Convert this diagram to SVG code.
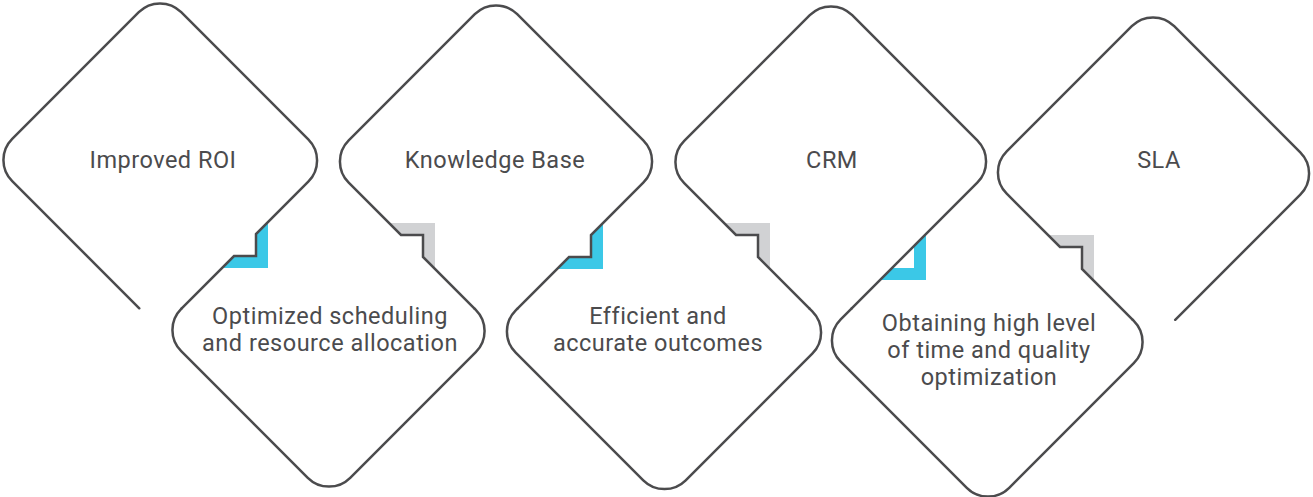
<svg xmlns="http://www.w3.org/2000/svg" width="1313" height="497" viewBox="0 0 1313 497">
<style>
.edge{fill:none;stroke:#4b4b4d;stroke-width:2.5;stroke-linecap:round;stroke-linejoin:miter}
.lbl{font-family:Roboto,"Liberation Sans",sans-serif;font-size:23.5px;letter-spacing:0.5px;fill:#4b4b4d;text-anchor:middle}
.cyan{fill:#3bc8e7}
.grey{fill:#d1d2d4}
</style>
<rect x="0" y="0" width="1313" height="497" fill="#ffffff"/>
<g id="connectors">
<polygon class="cyan" points="256,234 268,222 268,268 222,268 234,256 256,256"/>
<polygon class="grey" points="401,235 389,223 435,223 435,269 423,257 423,235"/>
<polygon class="cyan" points="591,235 603,223 603,269 557,269 569,257 591,257"/>
<polygon class="grey" points="736,235 724,223 770,223 770,269 758,257 758,235"/>
<polygon class="cyan" points="914,246 926,234 926,280 880,280 892,268 914,268"/>
<polygon class="grey" points="1060,247 1048,235 1094,235 1094,281 1082,269 1082,247"/>
</g>
<g id="node-improved-roi">
<path class="edge" d="M139.29,308.29 L12.21,181.21 A30,30 0 0 1 12.21,138.79 L138.79,12.21 A30,30 0 0 1 181.21,12.21 L308.29,139.29 A30,30 0 0 1 308.29,181.71 L256,234 L256,256 L234,256 L181.71,308.29"/>
<text class="lbl" x="163" y="168">Improved ROI</text>
</g>
<g id="node-optimized-scheduling">
<path class="edge" d="M181.71,308.29 L181.21,308.79 A30,30 0 0 0 181.21,351.21 L307.79,477.79 A30,30 0 0 0 350.21,477.79 L475.79,352.21 A30,30 0 0 0 475.79,309.79 L474.79,308.79"/>
<text class="lbl" x="330" y="324">Optimized scheduling</text>
<text class="lbl" x="330" y="351">and resource allocation</text>
</g>
<g id="node-knowledge-base">
<path class="edge" d="M474.79,308.79 L423,257 L423,235 L401,235 L348.71,182.71 A30,30 0 0 1 348.71,140.29 L474.79,14.21 A30,30 0 0 1 517.21,14.21 L643.29,140.29 A30,30 0 0 1 643.29,182.71 L591,235 L591,257 L569,257 L517.21,308.79"/>
<text class="lbl" x="495" y="168">Knowledge Base</text>
</g>
<g id="node-efficient-outcomes">
<path class="edge" d="M517.21,308.79 L515.71,310.29 A30,30 0 0 0 515.71,352.71 L643.29,480.29 A30,30 0 0 0 685.71,480.29 L812.29,353.71 A30,30 0 0 0 812.29,311.29 L809.29,308.29"/>
<text class="lbl" x="658" y="324">Efficient and</text>
<text class="lbl" x="658" y="351">accurate outcomes</text>
</g>
<g id="node-crm">
<path class="edge" d="M809.29,308.29 L758,257 L758,235 L736,235 L684.21,183.21 A30,30 0 0 1 684.21,140.79 L809.79,15.21 A30,30 0 0 1 852.21,15.21 L977.29,140.29 A30,30 0 0 1 977.29,182.71 L851.71,308.29"/>
<text class="lbl" x="832" y="168">CRM</text>
</g>
<g id="node-obtaining-optimization">
<path class="edge" d="M851.71,308.29 L840.71,319.29 A30,30 0 0 0 840.71,361.71 L966.79,487.79 A30,30 0 0 0 1009.21,487.79 L1133.79,363.21 A30,30 0 0 0 1133.79,320.79 L1132.79,319.79"/>
<text class="lbl" x="989" y="331">Obtaining high level</text>
<text class="lbl" x="989" y="358">of time and quality</text>
<text class="lbl" x="989" y="385">optimization</text>
</g>
<g id="node-sla">
<path class="edge" d="M1132.79,319.79 L1082,269 L1082,247 L1060,247 L1006.71,193.71 A30,30 0 0 1 1006.71,151.29 L1131.79,26.21 A30,30 0 0 1 1174.21,26.21 L1300.29,152.29 A30,30 0 0 1 1300.29,194.71 L1175.21,319.79"/>
<text class="lbl" x="1159" y="168">SLA</text>
</g>
</svg>
